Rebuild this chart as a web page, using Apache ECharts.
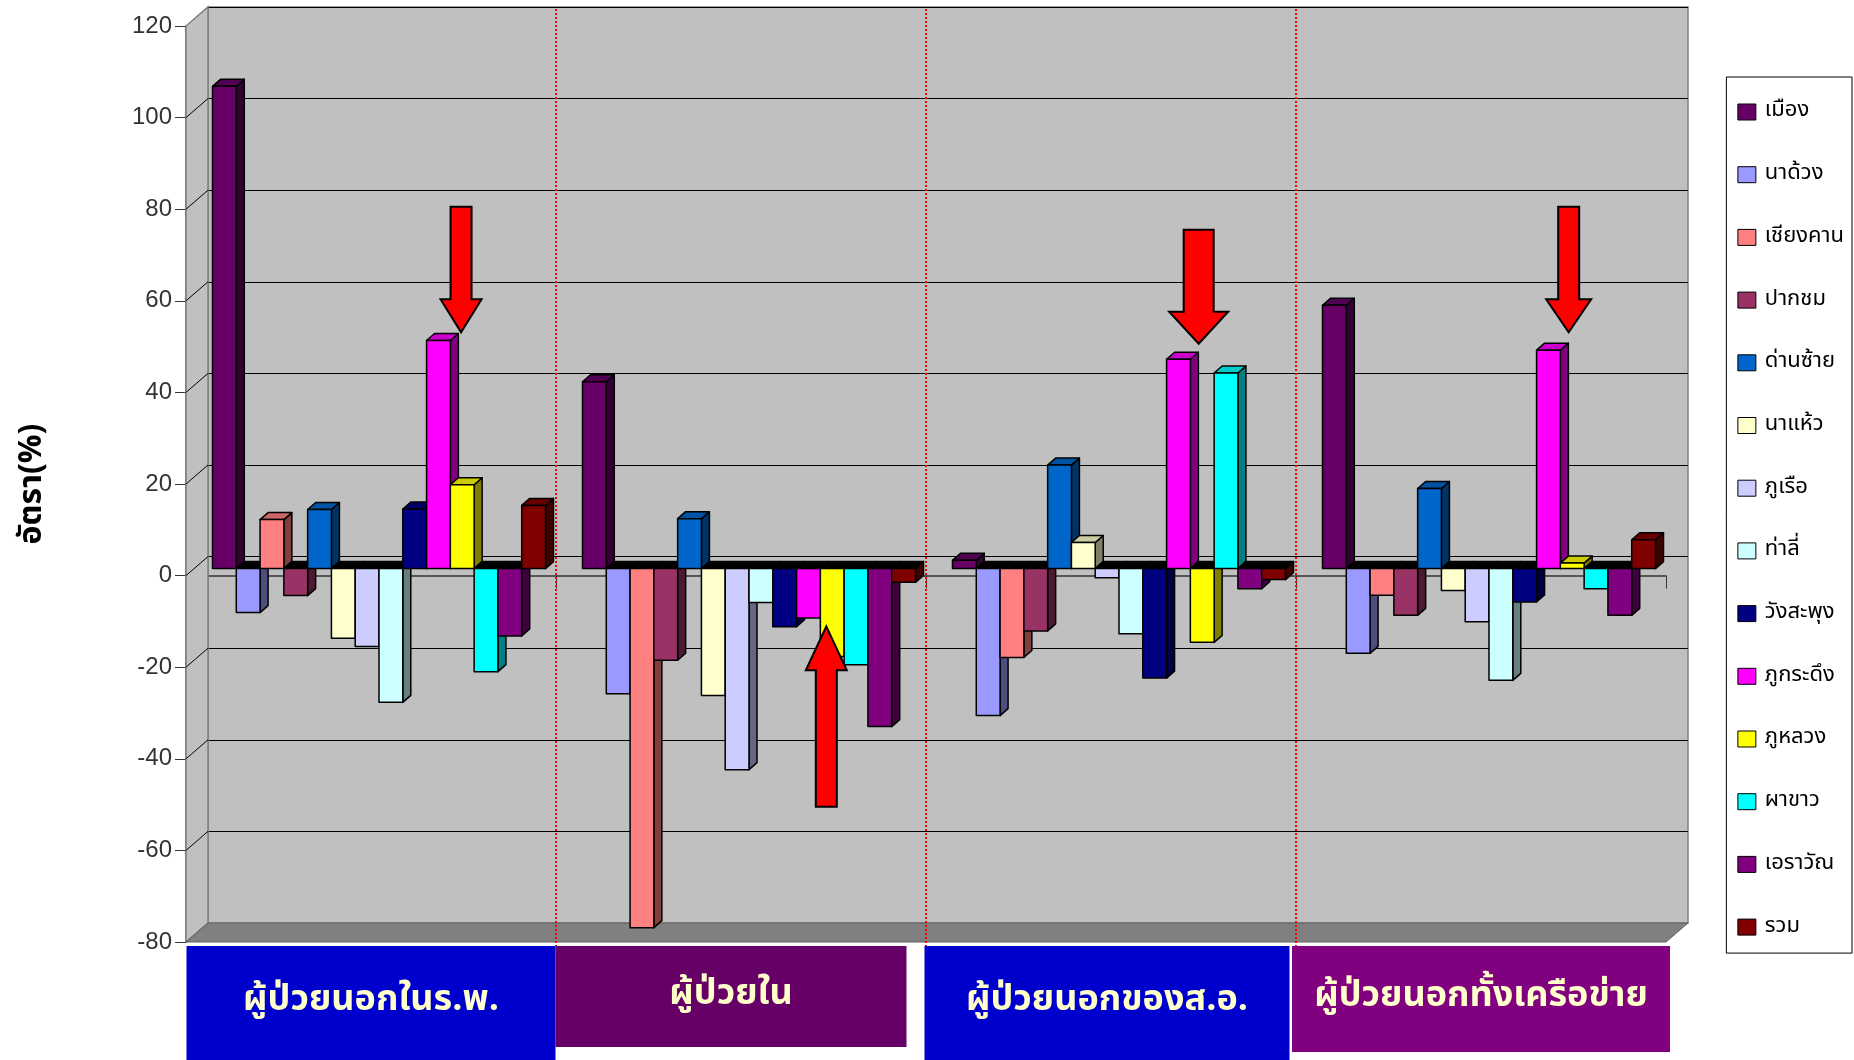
<!DOCTYPE html>
<html><head><meta charset="utf-8">
<script src="https://cdn.jsdelivr.net/npm/echarts@6/dist/echarts.min.js"></script>
<style>html,body{margin:0;padding:0;background:#fff}#c{width:1854px;height:1060px}</style>
</head><body><div id="c"></div>
<script>
// ---------- data ----------
const categories = ['ผู้ป่วยนอกในร.พ.', 'ผู้ป่วยใน', 'ผู้ป่วยนอกของส.อ.', 'ผู้ป่วยนอกทั้งเครือข่าย'];
const districts = ['เมือง','นาด้วง','เชียงคาน','ปากชม','ด่านซ้าย','นาแห้ว','ภูเรือ','ท่าลี่','วังสะพุง','ภูกระดึง','ภูหลวง','ผาขาว','เอราวัณ','รวม'];
const mueang      = [105.3, 40.8, 1.8, 57.5];
const naDuang     = [-9.6, -27.3, -32.1, -18.5];
const chiangKhan  = [10.7, -78.4, -19.4, -5.8];
const pakChom     = [-5.9, -20.0, -13.6, -10.2];
const danSai      = [12.9, 10.9, 22.6, 17.5];
const naHaeo      = [-15.2, -27.7, 5.7, -4.8];
const phuRuea     = [-17.0, -43.9, -2.0, -11.6];
const thaLi       = [-29.2, -7.4, -14.2, -24.4];
const wangSaphung = [13.0, -12.7, -23.9, -7.3];
const phuKradueng = [49.8, -10.8, 45.7, 47.7];
const phuLuang    = [18.3, -19.2, -16.1, 1.2];
const phaKhao     = [-22.5, -21.0, 42.7, -4.4];
const erawan      = [-14.7, -34.5, -4.4, -10.2];
const total       = [13.8, -3.0, -2.4, 6.3];
const districtValues = [mueang, naDuang, chiangKhan, pakChom, danSai, naHaeo, phuRuea, thaLi, wangSaphung, phuKradueng, phuLuang, phaKhao, erawan, total];
const yTickValues = [-80, -60, -40, -20, 0, 20, 40, 60, 80, 100, 120];
// red arrow annotations: category, bar slot pointed at, tip value, tail value
const arrowCategory = [0, 1, 2, 3];
const arrowSlot     = [9.95, 9.75, 9.85, 9.85];
const arrowTip      = [51.6, -12.6, 49.1, 51.6];
const arrowTail     = [79, -52, 74, 79];

// ---------- styles ----------
const districtColors = ['#660066','#9999FF','#FF8080','#993366','#0066CC','#FFFFCC','#CCCCFF','#CCFFFF','#000080','#FF00FF','#FFFF00','#00FFFF','#800080','#800000'];
const arrowShape = [ // [head width, shaft width, head length] px
  [41, 21, 33], [41, 21, 44], [59, 30, 32], [45, 21, 33]
];
const thaiFont = "'Noto Sans Thai','Noto Sans Thai UI','Noto Sans','DejaVu Sans',sans-serif";
const numFont = "'Liberation Sans Narrow','Liberation Sans',Arial,sans-serif";
const DX = 8, DY = 7;        // bar depth
const WDX = 22, WDY = 19;    // wall depth

function shade(hex, f) {
  const n = parseInt(hex.slice(1), 16);
  const r = Math.round(((n >> 16) & 255) * f), g = Math.round(((n >> 8) & 255) * f), b = Math.round((n & 255) * f);
  return 'rgb(' + r + ',' + g + ',' + b + ')';
}
function catWidth(api) {
  return api.coord([1, 0])[0] - api.coord([0, 0])[0];
}

function makeBar(slot, color) {
  return function (params, api) {
    if (typeof api.coord !== 'function') return null;
    const ci = api.value(0), v = api.value(1);
    const catW = catWidth(api);
    const pitch = catW * 0.9 / 14;
    const c = api.coord([ci, 0]);
    const x0 = c[0] + (slot - 7) * pitch;
    const yz = c[1];
    const yv = api.coord([ci, v])[1];
    const w = pitch;
    const top = Math.min(yz, yv), bot = Math.max(yz, yv);
    const st = { stroke: '#000', lineWidth: 1.5, lineJoin: 'round' };
    return {
      type: 'group',
      children: [
        { type: 'polygon', shape: { points: [[x0 + w, top], [x0 + w + DX, top - DY], [x0 + w + DX, bot - DY], [x0 + w, bot]] },
          style: Object.assign({ fill: shade(color, 0.5) }, st) },
        { type: 'polygon', shape: { points: [[x0, top], [x0 + DX, top - DY], [x0 + w + DX, top - DY], [x0 + w, top]] },
          style: Object.assign({ fill: v < 0 ? '#000' : shade(color, 0.8) }, st) },
        { type: 'rect', shape: { x: x0, y: top, width: w, height: bot - top },
          style: Object.assign({ fill: color }, st) }
      ]
    };
  };
}

function renderFrame(params, api) {
  if (typeof api.coord !== 'function') return null;
  const v = api.value(1);
  const catW = catWidth(api);
  const p = api.coord([0, v]);
  const xl = p[0] - catW / 2;
  const children = [];
  if (params.dataIndex === 0) {
    const yt = api.coord([0, 120])[1], yb = api.coord([0, -80])[1];
    const xr = xl + catW * 4;
    children.push({ type: 'polygon', shape: { points: [[xl, yt], [xl + WDX, yt - WDY], [xl + WDX, yb - WDY], [xl, yb]] },
      style: { fill: '#C0C0C0', stroke: '#808080', lineWidth: 1.5 } });
    children.push({ type: 'polygon', shape: { points: [[xl, yb], [xr, yb], [xr + WDX, yb - WDY], [xl + WDX, yb - WDY]] },
      style: { fill: '#808080', stroke: '#606060', lineWidth: 1 } });
  }
  if (v > -80 && v < 120) {
    children.push({ type: 'line', shape: { x1: xl, y1: p[1], x2: xl + WDX, y2: p[1] - WDY },
      style: { stroke: '#000', lineWidth: 1 } });
  }
  return { type: 'group', children: children };
}

function renderDivider(params, api) {
  if (typeof api.coord !== 'function') return null;
  const i = api.value(0);
  const catW = catWidth(api);
  const x = api.coord([i, 0])[0] - catW / 2;
  const yt = api.coord([i, 120])[1] - WDY + 2, yb = api.coord([i, -80])[1] + 4;
  return { type: 'line', shape: { x1: x, y1: yt, x2: x, y2: yb },
    style: { stroke: '#FF0000', lineWidth: 2, lineDash: [2, 2] } };
}

function renderArrow(params, api) {
  if (typeof api.coord !== 'function') return null;
  const k = params.dataIndex;
  const ci = api.value(0), slot = api.value(1);
  const catW = catWidth(api);
  const pitch = catW * 0.9 / 14;
  const cx = api.coord([ci, 0])[0] + (slot - 6.5) * pitch;
  const yp = api.coord([ci, api.value(2)])[1];
  const yt = api.coord([ci, api.value(3)])[1];
  const hw = arrowShape[k][0], sw = arrowShape[k][1], hl = arrowShape[k][2];
  const dir = yp > yt ? 1 : -1;
  const yh = yp - hl * dir;
  return { type: 'polygon', shape: { points: [
      [cx - sw / 2, yt], [cx + sw / 2, yt], [cx + sw / 2, yh], [cx + hw / 2, yh], [cx, yp],
      [cx - hw / 2, yh], [cx - sw / 2, yh]] },
    style: { fill: '#FF0000', stroke: '#000', lineWidth: 2, lineJoin: 'miter' } };
}

const catRich = {
  c0: { backgroundColor: '#0000CC', width: 369, height: 114, lineHeight: 114 },
  c1: { backgroundColor: '#660066', width: 351, height: 101, lineHeight: 101 },
  c2: { backgroundColor: '#0000CC', width: 365, height: 114, lineHeight: 114 },
  c3: { backgroundColor: '#800080', width: 378, height: 106, lineHeight: 106 }
};
Object.values(catRich).forEach(s => Object.assign(s, { color: '#FFFFCC', fontSize: 36, fontWeight: 'bold', align: 'center', fontFamily: thaiFont }));
catRich.sp1 = { width: 20, height: 10, fontSize: 10 };
catRich.sp2 = { width: 8, height: 10, fontSize: 10 };
const catSpacer = ['', '{sp1| }', '{sp2| }', ''];

const series = [];
series.push({ type: 'custom', coordinateSystem: 'cartesian2d', name: 'frame', xAxisIndex: 0, yAxisIndex: 0, renderItem: renderFrame,
  encode: { x: 0, y: 1 }, data: yTickValues.map(v => [0, v]), silent: true, z: 1 });
districts.forEach((d, s) => {
  series.push({
    type: 'custom', coordinateSystem: 'cartesian2d', name: d, xAxisIndex: 3, yAxisIndex: 2,
    renderItem: makeBar(s, districtColors[s]),
    itemStyle: { color: districtColors[s], borderColor: '#000', borderWidth: 1 },
    encode: { x: 0, y: 1 },
    data: districtValues[s].map((v, i) => [i, v]), z: 3
  });
});
series.push({ type: 'custom', coordinateSystem: 'cartesian2d', name: 'arrows', xAxisIndex: 3, yAxisIndex: 2, renderItem: renderArrow,
  encode: { x: 0, y: 2 }, data: arrowCategory.map((c, i) => [c, arrowSlot[i], arrowTip[i], arrowTail[i]]), silent: true, z: 5 });
series.push({ type: 'custom', coordinateSystem: 'cartesian2d', name: 'dividers', xAxisIndex: 0, yAxisIndex: 0, renderItem: renderDivider,
  encode: { x: 0, y: 1 }, data: [[1, 0], [2, 0], [3, 0]], silent: true, z: 6 });

const chart = echarts.init(document.getElementById('c'), null, { renderer: 'canvas' });
chart.setOption({
  backgroundColor: '#FFFFFF',
  animation: false,
  grid: [
    { left: 186, top: 26, width: 1480, height: 916 },
    { left: 186 + WDX, top: 26 - WDY, width: 1480, height: 916, show: true, backgroundColor: '#C0C0C0', borderColor: '#808080', borderWidth: 1.5 },
    { left: 186 + DX, top: 26 - DY, width: 1480, height: 916 }
  ],
  xAxis: [
    { gridIndex: 0, type: 'category', data: categories,
      axisLine: { show: true, onZero: true, lineStyle: { color: '#333', width: 1.5 } },
      axisTick: { show: true, length: 13, lineStyle: { color: '#333' } },
      axisLabel: { show: false }, splitLine: { show: false } },
    { gridIndex: 0, type: 'category', data: categories, position: 'bottom',
      axisLine: { show: false, onZero: false }, axisTick: { show: false }, splitLine: { show: false },
      axisLabel: { interval: 0, margin: 4, formatter: (v, i) => '{c' + i + '|' + v + '}' + catSpacer[i], rich: catRich } },
    { gridIndex: 1, type: 'category', data: categories, show: false },
    { gridIndex: 2, type: 'category', data: categories, show: false }
  ],
  yAxis: [
    { gridIndex: 0, type: 'value', min: -80, max: 120, interval: 20,
      name: 'อัตรา(%)', nameLocation: 'middle', nameGap: 135, nameRotate: 90,
      nameTextStyle: { fontSize: 32, fontWeight: 'bold', color: '#000', fontFamily: thaiFont },
      axisLine: { show: true, lineStyle: { color: '#808080', width: 2 } },
      axisTick: { show: true, length: 11, lineStyle: { color: '#333', width: 1 } },
      axisLabel: { fontSize: 24, color: '#333', margin: 14, fontFamily: numFont },
      splitLine: { show: false } },
    { gridIndex: 1, type: 'value', min: -80, max: 120, interval: 20,
      axisLine: { show: false }, axisTick: { show: false }, axisLabel: { show: false },
      splitLine: { show: true, lineStyle: { color: '#000', width: 1 } } },
    { gridIndex: 2, type: 'value', min: -80, max: 120, interval: 20, show: false, splitLine: { show: false } }
  ],
  legend: {
    orient: 'vertical', right: 2, top: 77,
    data: districts, icon: 'rect', itemWidth: 18, itemHeight: 16, itemGap: 38.7,
    padding: [23, 8, 14, 11], borderColor: '#000', borderWidth: 1, backgroundColor: '#fff',
    selectedMode: false,
    itemStyle: { borderColor: '#000', borderWidth: 1 },
    textStyle: { fontSize: 22, lineHeight: 24, color: '#000', fontFamily: thaiFont, padding: [0, 0, 0, 4] }
  },
  series: series
});
</script></body></html>
